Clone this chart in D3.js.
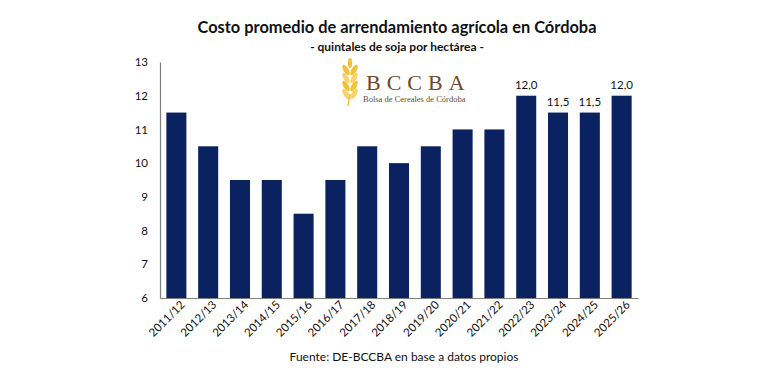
<!DOCTYPE html>
<html>
<head>
<meta charset="utf-8">
<script src="https://cdn.jsdelivr.net/npm/d3@7"></script>
<style>
    body { margin: 0; background: #fff; }
    text { font-family: Lato, "Open Sans", sans-serif; }
    .serif { font-family: "Liberation Serif", "DejaVu Serif", serif; }
</style>
</head>
<body>
<div id="vis"></div>
<script>
// data
var campaigns = ['2011/12', '2012/13', '2013/14', '2014/15', '2015/16', '2016/17', '2017/18',
    '2018/19', '2019/20', '2020/21', '2021/22', '2022/23', '2023/24', '2024/25', '2025/26'];
var quintales = [11.5, 10.5, 9.5, 9.5, 8.5, 9.5, 10.5, 10.0, 10.5, 11, 11, 12, 11.5, 11.5, 12];
var labelled = ['2022/23', '2023/24', '2024/25', '2025/26'];
var yTicks = [6, 7, 8, 9, 10, 11, 12, 13];

var width = 768, height = 380;
var margin = { left: 160, right: 130, top: 62, bottom: 82 };

var svg = d3.select('#vis')
    .append('svg')
        .attr('width', width)
        .attr('height', height);

var x = d3.scaleBand()
    .domain(campaigns)
    .range([margin.left, width - margin.right])
    .paddingInner(0.37)
    .paddingOuter(0.2);

var y = d3.scaleLinear()
    .domain([6, 13])
    .range([height - margin.bottom, margin.top]);

// titles
svg.append('text')
    .attr('x', 397).attr('y', 33)
    .attr('text-anchor', 'middle')
    .attr('font-size', 16.4).attr('font-weight', 'bold')
    .attr('fill', '#111')
    .text('Costo promedio de arrendamiento agrícola en Córdoba');

svg.append('text')
    .attr('x', 397).attr('y', 51)
    .attr('text-anchor', 'middle')
    .attr('font-size', 12).attr('font-weight', 'bold')
    .attr('fill', '#111')
    .text('- quintales de soja por hectárea -');

// logo
var logo = svg.append('g').attr('transform', 'translate(350,84)');
var gold = '#f2c13a';
[-1, 1].forEach(function(side) {
    for(var i = 0; i < 4; ++i)
    {
        logo.append('ellipse')
            .attr('cx', side * 4).attr('cy', -14 + i * 8)
            .attr('rx', 2.6).attr('ry', 6)
            .attr('fill', i % 2 ? '#f7d36b' : gold)
            .attr('transform', 'rotate(' + (side * 30) + ',' + (side * 4) + ',' + (-14 + i * 8) + ')');
    }
});
logo.append('ellipse').attr('cx', 0).attr('cy', -21).attr('rx', 2.2).attr('ry', 5).attr('fill', gold);
logo.append('line').attr('x1', 0).attr('y1', 10).attr('x2', -2).attr('y2', 22)
    .attr('stroke', gold).attr('stroke-width', 1.5);

svg.append('text')
    .attr('class', 'serif')
    .attr('x', 366).attr('y', 90)
    .attr('font-size', 22).attr('letter-spacing', 6)
    .attr('fill', '#6b4a2e')
    .text('BCCBA');

svg.append('text')
    .attr('class', 'serif')
    .attr('x', 363).attr('y', 102)
    .attr('font-size', 8.5)
    .attr('fill', '#6b4a2e')
    .text('Bolsa de Cereales de Córdoba');

// bars
svg.selectAll('.bar')
    .data(campaigns)
    .enter()
    .append('rect')
        .attr('class', 'bar')
        .attr('x', function(d) { return x(d); })
        .attr('y', function(d, i) { return y(quintales[i]); })
        .attr('width', x.bandwidth())
        .attr('height', function(d, i) { return y(6) - y(quintales[i]); })
        .attr('fill', '#0b2260');

// value labels
svg.selectAll('.val')
    .data(campaigns.filter(function(d) { return labelled.indexOf(d) >= 0; }))
    .enter()
    .append('text')
        .attr('class', 'val')
        .attr('x', function(d) { return x(d) + x.bandwidth() / 2; })
        .attr('y', function(d) { return y(quintales[campaigns.indexOf(d)]) - 7; })
        .attr('text-anchor', 'middle')
        .attr('font-size', 11.5)
        .attr('fill', '#111')
        .text(function(d) { return d3.format('.1f')(quintales[campaigns.indexOf(d)]).replace('.', ','); });

// axes
var yAxis = svg.append('g')
    .attr('transform', 'translate(' + margin.left + ',0)')
    .call(d3.axisLeft(y).tickValues(yTicks).tickFormat(d3.format('d')).tickSize(0).tickPadding(12));
yAxis.select('.domain').attr('stroke', '#7f7f7f').attr('stroke-width', 1.2);
yAxis.selectAll('text').attr('font-size', 11.5).attr('fill', '#111')
    .style('font-family', 'Lato, sans-serif');

var xAxis = svg.append('g')
    .attr('transform', 'translate(0,' + (height - margin.bottom) + ')')
    .call(d3.axisBottom(x).tickSize(0).tickPadding(6));
xAxis.select('.domain').attr('stroke', '#7f7f7f').attr('stroke-width', 1.2);
xAxis.selectAll('text')
    .attr('font-size', 11.5).attr('fill', '#111')
    .style('font-family', 'Lato, sans-serif')
    .attr('text-anchor', 'end')
    .attr('dx', '0.1em').attr('dy', '0.5em')
    .attr('transform', 'rotate(-45)');

// source
svg.append('text')
    .attr('x', 404).attr('y', 361)
    .attr('text-anchor', 'middle')
    .attr('font-size', 12)
    .attr('fill', '#111')
    .text('Fuente: DE-BCCBA en base a datos propios');
</script>
</body>
</html>
